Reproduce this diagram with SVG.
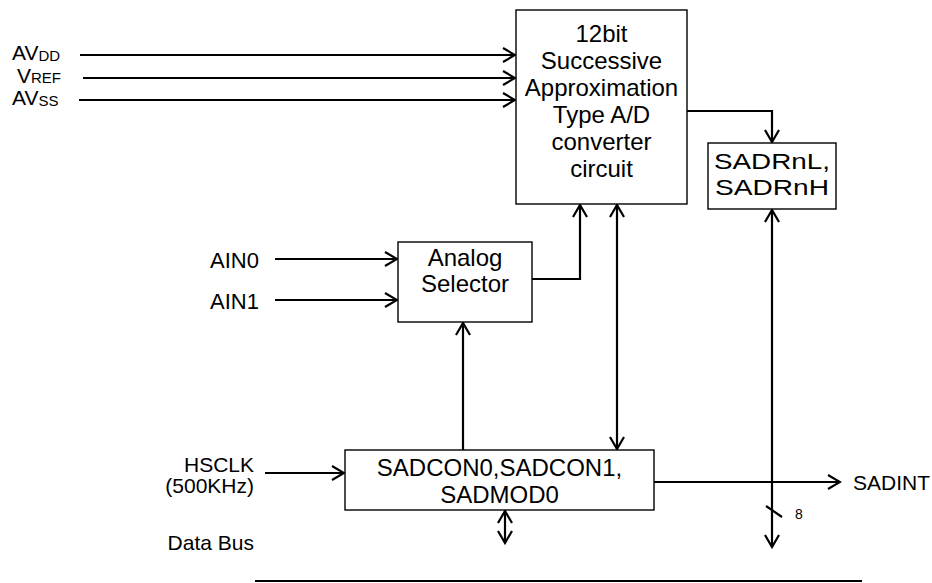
<svg xmlns="http://www.w3.org/2000/svg" width="932" height="583" viewBox="0 0 932 583">
<style>
text{font-family:"Liberation Sans",Arial,sans-serif;fill:#000}
.bx{fill:#fff;stroke:#000;stroke-width:1.4}
.bt{font-size:24px;text-anchor:middle}
.lb{font-size:21px}
.w{fill:none;stroke:#000;stroke-width:2.2}
</style>
<defs>
<marker id="a" viewBox="-14 -9 16 18" refX="0" refY="0" markerWidth="16" markerHeight="18" markerUnits="userSpaceOnUse" orient="auto-start-reverse">
<path d="M-12,-7 L0,0 L-12,7" fill="none" stroke="#000" stroke-width="2.2"/>
</marker>
</defs>
<rect width="932" height="583" fill="#fff"/>
<g id="connectors">
<path class="w" d="M80,55 H515" marker-end="url(#a)"/>
<path class="w" d="M83,78 H515" marker-end="url(#a)"/>
<path class="w" d="M79,100 H515" marker-end="url(#a)"/>
<path class="w" d="M687,111 H772 V142" marker-end="url(#a)"/>
<path class="w" d="M275,259 H397" marker-end="url(#a)"/>
<path class="w" d="M275,300 H397" marker-end="url(#a)"/>
<path class="w" d="M532,279 H580 V205" marker-end="url(#a)"/>
<path class="w" d="M617,205 V449" marker-start="url(#a)" marker-end="url(#a)"/>
<path class="w" d="M463,450 V323" marker-end="url(#a)"/>
<path class="w" d="M265,473 H344" marker-end="url(#a)"/>
<path class="w" d="M654,482 H840" marker-end="url(#a)"/>
<path class="w" d="M772,210 V547" marker-start="url(#a)" marker-end="url(#a)"/>
<path class="w" d="M505,511 V543" marker-start="url(#a)" marker-end="url(#a)"/>
<path class="w" d="M766,506 L782,517"/>
<path class="w" d="M255,581 H862"/>
</g>
<g id="adc">
<rect class="bx" x="516" y="10" width="171" height="194"/>
<text class="bt" x="601.5" y="42">12bit</text>
<text class="bt" x="601.5" y="69">Successive</text>
<text class="bt" x="601.5" y="96">Approximation</text>
<text class="bt" x="601.5" y="123">Type A/D</text>
<text class="bt" x="601.5" y="150">converter</text>
<text class="bt" x="601.5" y="177">circuit</text>
</g>
<g id="sadr">
<rect class="bx" x="708" y="143" width="128" height="66"/>
<text class="bt" x="772" y="169" font-size="22" style="font-size:22px" textLength="116" lengthAdjust="spacingAndGlyphs">SADRnL,</text>
<text class="bt" x="772" y="195" font-size="22" style="font-size:22px" textLength="114" lengthAdjust="spacingAndGlyphs">SADRnH</text>
</g>
<g id="selector">
<rect class="bx" x="398" y="242" width="134" height="80"/>
<text class="bt" x="465" y="266">Analog</text>
<text class="bt" x="465" y="292">Selector</text>
</g>
<g id="sadcon">
<rect class="bx" x="345" y="450" width="309" height="60"/>
<text class="bt" x="499.5" y="476">SADCON0,SADCON1,</text>
<text class="bt" x="499.5" y="503">SADMOD0</text>
</g>
<g id="labels">
<text x="12" y="60" font-size="21">AV<tspan font-size="15" dy="1">DD</tspan></text>
<text x="17" y="83" font-size="21">V<tspan font-size="15">REF</tspan></text>
<text x="12" y="105" font-size="21">AV<tspan font-size="15" dy="1">SS</tspan></text>
<text x="210" y="268" font-size="22">AIN0</text>
<text x="210" y="309" font-size="22">AIN1</text>
<text class="lb" x="254" y="472" text-anchor="end">HSCLK</text>
<text class="lb" x="254" y="493" text-anchor="end">(500KHz)</text>
<text class="lb" x="254" y="550" text-anchor="end">Data Bus</text>
<text class="lb" x="853" y="490">SADINT</text>
<text x="795" y="519" font-size="14">8</text>
</g>
</svg>
